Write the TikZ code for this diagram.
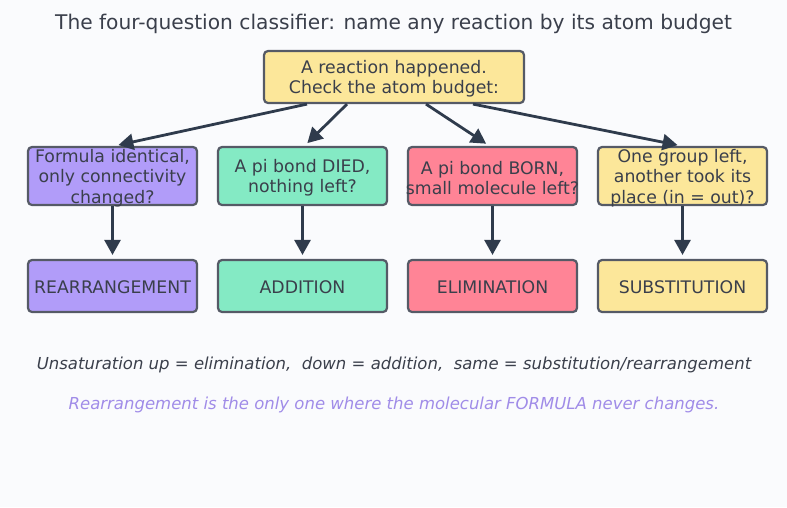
\documentclass[tikz,border=0pt]{standalone}
\usepackage{fontspec}
\setmainfont{DejaVu Sans}
\usetikzlibrary{arrows.meta}
\definecolor{bg}{HTML}{FAFBFD}
\definecolor{ink}{HTML}{3A3F4B}
\definecolor{edge}{HTML}{555A66}
\definecolor{arr}{HTML}{2F3B4C}
\definecolor{cpurple}{HTML}{B19CF9}
\definecolor{cgreen}{HTML}{84EAC4}
\definecolor{cred}{HTML}{FF8496}
\definecolor{cyellow}{HTML}{FCE79A}
\definecolor{note}{HTML}{A08CE8}
\tikzset{
  box/.style={draw=edge, line width=2.2pt, rounded corners=4pt, inner sep=0pt},
  txt/.style={text=ink, font=\fontsize{17.3}{20.3}\selectfont, align=center, inner sep=0pt},
  conn/.style={draw=arr, line width=2.8pt, -{Triangle[length=15pt,width=16pt]}, shorten >=4pt},
}
\begin{document}
\begin{tikzpicture}[x=1pt,y=-1pt]
\fill[bg] (0,0) rectangle (787,507);
\useasboundingbox (0,0) rectangle (787,507);
\node[text=ink, font=\fontsize{20.2}{23}\selectfont] (title) at (393.5,24) {The four-question classifier: name any reaction by its atom budget};
\node[box, fill=cyellow, minimum width=260pt, minimum height=52pt] (top) at (394,77) {};
\node[txt] (topt) at ([yshift=-2pt]top.center) {A reaction happened.\\Check the atom budget:};
\foreach \n/\x/\c/\t/\b in {
  q1/112.5/cpurple/{Formula identical,\\only connectivity\\changed?}/REARRANGEMENT,
  q2/302.5/cgreen/{A pi bond DIED,\\nothing left?}/ADDITION,
  q3/492.5/cred/{A pi bond BORN,\\small molecule left?}/ELIMINATION,
  q4/682.5/cyellow/{One group left,\\another took its\\place (in = out)?}/SUBSTITUTION} {
  \node[box, fill=\c, minimum width=169pt, minimum height=58pt] (\n) at (\x,176) {};
  \node[txt] (\n t) at ([yshift=-2pt]\n.center) {\t};
  \node[box, fill=\c, minimum width=169pt, minimum height=52pt] (\n r) at (\x,286) {};
  \node[txt] (\n rt) at ([yshift=-1pt]\n r.center) {\b};
  \draw[conn] (\n.south) -- (\n r.north);
}
\draw[conn] ([xshift=-87pt]top.south) -- ([xshift=2pt]q1.north);
\draw[conn] ([xshift=-47pt]top.south) -- ([xshift=2pt]q2.north);
\draw[conn] ([xshift=32pt]top.south) -- ([xshift=-3pt]q3.north);
\draw[conn] ([xshift=79pt]top.south) -- ([xshift=-1pt]q4.north);
\node[text=ink, font=\fontsize{16.5}{19}\itshape] (n1) at (394,365) {Unsaturation up = elimination,\ \ down = addition,\ \ same = substitution/rearrangement};
\node[text=note, font=\fontsize{16.5}{19}\itshape] (n2) at (394,405) {Rearrangement is the only one where the molecular FORMULA never changes.};
\end{tikzpicture}
\end{document}
